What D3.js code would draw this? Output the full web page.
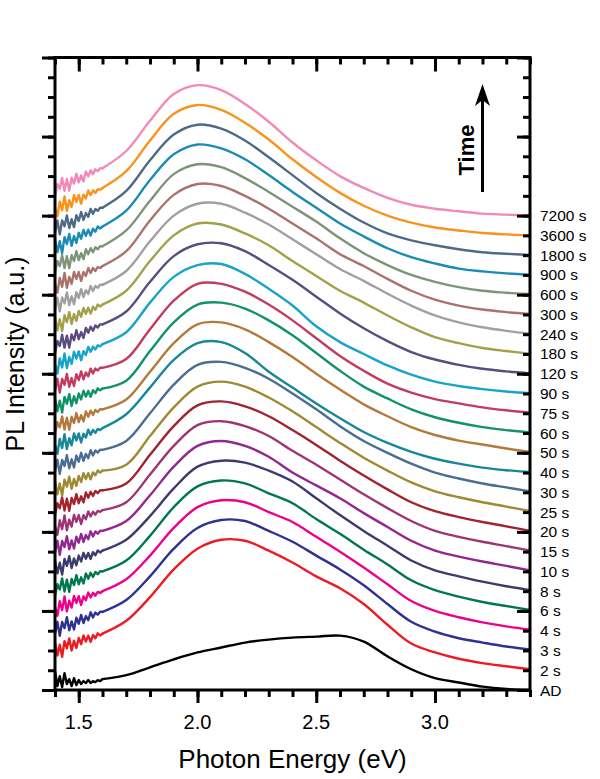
<!DOCTYPE html>
<html>
<head>
<meta charset="utf-8">
<script src="https://cdn.jsdelivr.net/npm/d3@7"></script>
<style>
  html, body { margin: 0; padding: 0; background: #fff; }
  svg { display: block; }
  text { font-family: Arial, "Liberation Sans", sans-serif; fill: #000; }
</style>
</head>
<body>
<svg id="chart" width="600" height="779"></svg>
<script>
// ---------------- DATA ----------------
// photon energy grid (eV): dense in the noisy low-energy part, 0.1 eV above 1.6 eV
const energy = [1.40,1.41,1.42,1.43,1.44,1.45,1.46,1.47,1.48,1.49,1.50,1.51,1.52,1.53,1.54,1.55,1.56,1.57,1.58,1.59,1.60,
  1.70,1.80,1.90,2.00,2.10,2.20,2.30,2.40,2.50,2.60,2.70,2.80,2.90,3.00,3.10,3.20,3.30,3.40];
const noisyCount = 21; // first 21 points (1.40–1.60 eV) are the noisy part of each spectrum

// PL intensity of each spectrum above its own baseline (a.u., one unit = one minor tick)
const pl_AD    = [0.95,0.2,0.7,0.15,0.85,0.3,0.55,0.2,0.6,0.25,0.5,0.3,0.45,0.35,0.5,0.35,0.45,0.4,0.5,0.45,0.55,
  0.75,1.15,1.55,1.9,2.15,2.4,2.55,2.65,2.7,2.75,2.45,1.7,1.05,0.6,0.38,0.17,0.05,0.0];
const pl_2s    = [1.40,0.74,1.29,0.68,1.47,1.11,1.61,1.00,1.49,1.13,1.63,1.32,1.76,1.45,1.75,1.44,1.78,1.62,1.87,1.76,1.85,
  2.5,3.7,5.1,6.15,6.6,6.55,6.05,5.45,4.75,4.15,3.35,2.3,1.35,0.9,0.58,0.36,0.2,0.05];
const pl_3s    = [0.85,1.45,0.74,1.44,1.13,1.68,1.02,1.47,1.06,1.66,1.35,1.80,1.39,1.74,1.53,1.93,1.67,1.92,1.81,1.96,1.95,
  2.55,3.75,5.15,6.2,6.6,6.55,6.05,5.5,4.8,4.1,3.3,2.35,1.45,0.95,0.62,0.4,0.2,0.05];
const pl_4s    = [1.20,0.75,1.49,1.04,1.73,0.98,1.52,1.17,1.76,1.41,1.75,1.30,1.74,1.54,1.93,1.68,1.92,1.77,1.96,1.91,2.00,
  2.6,3.8,5.2,6.25,6.6,6.5,6.0,5.5,4.75,4.0,3.2,2.35,1.5,1.0,0.68,0.42,0.22,0.05];
const pl_6s    = [0.75,1.35,1.09,1.64,0.98,1.58,0.97,1.62,1.31,1.81,1.35,1.70,1.39,1.89,1.63,1.93,1.72,1.97,1.86,2.01,2.00,
  2.55,3.8,5.25,6.3,6.6,6.45,5.95,5.45,4.65,3.9,3.1,2.35,1.55,1.05,0.72,0.45,0.25,0.05];
const pl_8s    = [1.55,0.90,1.44,0.84,1.63,1.28,1.77,1.17,1.66,1.31,1.80,1.50,1.94,1.64,1.93,1.63,1.97,1.82,2.06,1.96,2.05,
  2.6,3.8,5.2,6.3,6.6,6.5,6.1,5.55,4.7,3.85,3.05,2.3,1.55,1.05,0.75,0.48,0.25,0.05];
const pl_10s   = [0.95,1.55,0.84,1.54,1.23,1.78,1.12,1.57,1.16,1.76,1.45,1.90,1.49,1.84,1.63,2.03,1.77,2.02,1.91,2.06,2.05,
  2.55,3.85,5.3,6.35,6.6,6.35,5.8,5.0,4.35,3.7,2.95,2.25,1.55,1.05,0.75,0.5,0.28,0.05];
const pl_15s   = [1.30,0.85,1.59,1.14,1.83,1.08,1.62,1.27,1.86,1.51,1.85,1.40,1.84,1.64,2.03,1.78,2.02,1.87,2.06,2.01,2.10,
  2.5,3.9,5.35,6.4,6.6,6.35,5.85,5.1,4.4,3.65,2.9,2.2,1.55,1.05,0.75,0.5,0.28,0.05];
const pl_20s   = [0.85,1.45,1.19,1.74,1.08,1.68,1.07,1.72,1.41,1.91,1.45,1.80,1.49,1.99,1.73,2.03,1.82,2.07,1.96,2.11,2.10,
  2.45,3.9,5.35,6.4,6.6,6.35,5.85,5.15,4.4,3.6,2.85,2.15,1.5,1.05,0.75,0.5,0.28,0.05];
const pl_25s   = [1.55,0.90,1.45,0.84,1.64,1.29,1.79,1.18,1.68,1.33,1.83,1.52,1.97,1.67,1.97,1.66,2.01,1.86,2.11,2.00,2.10,
  2.4,3.85,5.3,6.35,6.6,6.35,5.8,5.1,4.3,3.5,2.75,2.1,1.5,1.05,0.75,0.5,0.28,0.05];
const pl_30s   = [1.05,1.65,0.94,1.64,1.33,1.88,1.22,1.67,1.26,1.86,1.55,2.00,1.59,1.94,1.73,2.13,1.87,2.12,2.01,2.16,2.15,
  2.6,4.0,5.45,6.45,6.6,6.3,5.75,5.0,4.2,3.35,2.6,2.0,1.45,1.0,0.7,0.45,0.25,0.05];
const pl_40s   = [1.40,0.95,1.70,1.24,1.94,1.19,1.74,1.38,1.98,1.63,1.98,1.52,1.97,1.77,2.17,1.91,2.16,2.01,2.21,2.15,2.25,
  2.95,4.3,5.7,6.55,6.6,6.05,5.1,4.3,3.5,2.75,2.05,1.5,1.05,0.7,0.45,0.25,0.12,0.03];
const pl_50s   = [0.95,1.55,1.29,1.84,1.18,1.78,1.17,1.82,1.51,2.01,1.55,1.90,1.59,2.09,1.83,2.13,1.92,2.17,2.06,2.21,2.20,
  2.7,4.1,5.55,6.5,6.6,6.25,5.6,4.85,4.0,3.2,2.45,1.85,1.3,0.9,0.62,0.42,0.22,0.04];
const pl_60s   = [1.75,1.10,1.64,1.04,1.83,1.48,1.97,1.37,1.86,1.51,2.00,1.70,2.14,1.84,2.13,1.83,2.17,2.02,2.26,2.16,2.25,
  2.65,4.15,5.6,6.5,6.6,6.3,5.7,4.95,4.05,3.15,2.35,1.75,1.2,0.8,0.52,0.3,0.15,0.03];
const pl_75s   = [1.15,1.75,1.05,1.74,1.44,1.99,1.34,1.78,1.38,1.98,1.68,2.12,1.72,2.07,1.87,2.26,2.01,2.26,2.16,2.30,2.30,
  2.75,4.25,5.7,6.55,6.55,6.15,5.5,4.7,3.8,2.9,2.15,1.5,1.05,0.72,0.5,0.3,0.15,0.03];
const pl_90s   = [1.45,1.01,1.77,1.32,2.03,1.29,1.85,1.50,2.11,1.77,2.13,1.68,2.14,1.95,2.36,2.11,2.37,2.23,2.44,2.39,2.50,
  3.1,4.6,5.9,6.5,6.55,6.05,5.3,4.45,3.4,2.6,2.0,1.42,0.95,0.6,0.38,0.22,0.1,0.02];
const pl_120s  = [1.05,1.66,1.41,1.97,1.32,1.93,1.33,1.99,1.69,2.20,1.75,2.11,1.81,2.32,2.07,2.38,2.18,2.44,2.34,2.50,2.50,
  3.15,4.65,5.95,6.55,6.6,6.2,5.5,4.75,3.9,3.05,2.3,1.65,1.1,0.72,0.45,0.25,0.12,0.02];
const pl_180s  = [1.85,1.20,1.76,1.16,1.96,1.61,2.12,1.52,2.02,1.67,2.18,1.88,2.33,2.03,2.34,2.04,2.39,2.24,2.50,2.40,2.50,
  3.2,4.7,6.0,6.6,6.55,6.1,5.5,4.7,3.95,3.2,2.6,1.95,1.35,0.85,0.55,0.3,0.15,0.02];
const pl_240s  = [1.25,1.85,1.16,1.86,1.56,2.11,1.47,1.92,1.52,2.12,1.83,2.28,1.88,2.23,2.04,2.44,2.19,2.44,2.35,2.50,2.50,
  3.2,4.7,6.0,6.6,6.6,6.15,5.55,4.8,4.05,3.3,2.7,2.05,1.45,0.95,0.6,0.35,0.17,0.03];
const pl_300s  = [1.55,1.10,1.85,1.40,2.10,1.35,1.90,1.55,2.15,1.80,2.15,1.70,2.15,1.95,2.35,2.10,2.35,2.20,2.40,2.35,2.45,
  3.2,4.75,6.05,6.6,6.5,6.0,5.35,4.6,3.85,3.05,2.45,1.8,1.2,0.75,0.45,0.25,0.12,0.02];
const pl_600s  = [1.10,1.70,1.45,2.00,1.35,1.95,1.35,2.00,1.70,2.20,1.75,2.10,1.80,2.30,2.05,2.35,2.15,2.40,2.30,2.45,2.45,
  3.25,4.75,6.1,6.6,6.45,5.9,5.2,4.45,3.7,2.85,2.1,1.5,1.0,0.65,0.38,0.2,0.1,0.02];
const pl_900s  = [1.80,1.15,1.71,1.11,1.91,1.56,2.07,1.47,1.97,1.62,2.13,1.83,2.28,1.98,2.29,1.99,2.34,2.19,2.45,2.35,2.45,
  3.25,4.8,6.1,6.6,6.4,5.85,5.05,4.2,3.4,2.6,1.95,1.35,0.9,0.58,0.32,0.18,0.08,0.01];
const pl_1800s = [1.15,1.75,1.06,1.76,1.46,2.01,1.37,1.82,1.42,2.02,1.73,2.18,1.78,2.13,1.94,2.34,2.09,2.34,2.25,2.40,2.40,
  3.25,4.8,6.1,6.6,6.4,5.8,4.95,4.05,3.15,2.35,1.65,1.1,0.75,0.5,0.3,0.15,0.07,0.01];
const pl_3600s = [1.40,0.96,1.71,1.27,1.97,1.23,1.78,1.44,2.04,1.70,2.05,1.61,2.06,1.87,2.27,2.03,2.28,2.14,2.34,2.30,2.40,
  3.25,4.8,6.15,6.6,6.35,5.7,4.85,3.85,2.95,2.15,1.5,1.0,0.65,0.4,0.25,0.12,0.05,0.0];
const pl_7200s = [1.00,1.60,1.36,1.91,1.26,1.86,1.27,1.92,1.62,2.12,1.68,2.03,1.73,2.23,1.99,2.29,2.09,2.34,2.25,2.40,2.40,
  3.27,4.8,6.15,6.6,6.35,5.65,4.75,3.7,2.8,2.0,1.4,0.9,0.55,0.35,0.22,0.1,0.05,0.0];

const seriesValues = [pl_AD, pl_2s, pl_3s, pl_4s, pl_6s, pl_8s, pl_10s, pl_15s, pl_20s, pl_25s,
  pl_30s, pl_40s, pl_50s, pl_60s, pl_75s, pl_90s, pl_120s, pl_180s, pl_240s, pl_300s,
  pl_600s, pl_900s, pl_1800s, pl_3600s, pl_7200s];

// labels (annealing time) and vertical stacking offsets (a.u.)
const seriesLabels = ["AD","2 s","3 s","4 s","6 s","8 s","10 s","15 s","20 s","25 s",
  "30 s","40 s","50 s","60 s","75 s","90 s","120 s","180 s","240 s","300 s",
  "600 s","900 s","1800 s","3600 s","7200 s"];
const offsets = [0,1,2,3,4,5,6,7,8,9,10,11,12,13,14,15,16,17,18,19,20,21,22,23,24];

const seriesColors = ["#000000","#ed1c24","#2e3192","#ec008c","#00784d","#3c3a6e","#92278f","#9e3472","#a0232e","#9e8a35",
  "#4b6d92","#17879a","#b27a3c","#11926a","#c23c5f","#16a4c9","#5a4c7f","#a3a04a","#a0a0a0","#a9736b",
  "#7d9478","#1a8cb4","#4e6a86","#f7941d","#f18ab9"];

// axis ticks
const xMinorTicks = d3.range(14, 35).map(d => d / 10);
const xMajorTicks = [1.5, 2.0, 2.5, 3.0];
const xTickLabels = ["1.5", "2.0", "2.5", "3.0"];
const yMinorTicks = d3.range(0, 33);
const yMajorTicks = d3.range(0, 33, 4);

// ---------------- CHART ----------------
(function () {
const svg = d3.select("#chart");
const pLeft = 55, pRight = 530, pTop = 57.5, pBottom = 690;

const x = d3.scaleLinear().domain([1.4, 3.4]).range([pLeft, pRight]);
const y = d3.scaleLinear().domain([0, 32]).range([pBottom, pTop]);

const noisyLine = d3.line().x(d => x(d[0])).y(d => y(d[1])).curve(d3.curveLinear);
const smoothLine = d3.line().x(d => x(d[0])).y(d => y(d[1])).curve(d3.curveCatmullRom.alpha(0.5));

const gLines = svg.append("g");
seriesValues.forEach((vals, i) => {
  const pts = energy.map((e, k) => [e, vals[k] + offsets[i]]);
  const g = gLines.append("g")
    .attr("fill", "none")
    .attr("stroke", seriesColors[i])
    .attr("stroke-width", 2.4)
    .attr("stroke-linejoin", "round")
    .attr("stroke-linecap", "round");
  g.append("path").attr("d", noisyLine(pts.slice(0, noisyCount)));
  g.append("path").attr("d", smoothLine(pts.slice(noisyCount - 1)));
});

function styleAxis(g) {
  g.select(".domain").remove();
  g.selectAll(".tick line").attr("stroke", "#000").attr("stroke-width", 3);
  g.selectAll(".tick text").remove();
}

// bottom (outward)
svg.append("g").attr("transform", `translate(0,${pBottom})`)
  .call(d3.axisBottom(x).tickValues(xMinorTicks).tickSize(7).tickFormat("")).call(styleAxis);
svg.append("g").attr("transform", `translate(0,${pBottom})`)
  .call(d3.axisBottom(x).tickValues(xMajorTicks).tickSize(13).tickFormat("")).call(styleAxis);
// top (inward)
svg.append("g").attr("transform", `translate(0,${pTop})`)
  .call(d3.axisTop(x).tickValues(xMinorTicks).tickSize(-7).tickFormat("")).call(styleAxis);
svg.append("g").attr("transform", `translate(0,${pTop})`)
  .call(d3.axisTop(x).tickValues(xMajorTicks).tickSize(-14).tickFormat("")).call(styleAxis);
// left (outward)
svg.append("g").attr("transform", `translate(${pLeft},0)`)
  .call(d3.axisLeft(y).tickValues(yMinorTicks).tickSize(7).tickFormat("")).call(styleAxis);
svg.append("g").attr("transform", `translate(${pLeft},0)`)
  .call(d3.axisLeft(y).tickValues(yMajorTicks).tickSize(13).tickFormat("")).call(styleAxis);
// right (inward)
svg.append("g").attr("transform", `translate(${pRight},0)`)
  .call(d3.axisRight(y).tickValues(yMinorTicks).tickSize(-7).tickFormat("")).call(styleAxis);
svg.append("g").attr("transform", `translate(${pRight},0)`)
  .call(d3.axisRight(y).tickValues(yMajorTicks).tickSize(-13).tickFormat("")).call(styleAxis);

// frame
svg.append("rect")
  .attr("x", pLeft).attr("y", pTop)
  .attr("width", pRight - pLeft).attr("height", pBottom - pTop)
  .attr("fill", "none").attr("stroke", "#000").attr("stroke-width", 3);

// x tick labels
svg.append("g").selectAll("text").data(xMajorTicks).join("text")
  .attr("x", d => x(d))
  .attr("y", pBottom + 39)
  .attr("text-anchor", "middle")
  .attr("font-size", 20)
  .text((d, i) => xTickLabels[i]);

// axis titles
svg.append("text")
  .attr("x", (pLeft + pRight) / 2).attr("y", 768)
  .attr("text-anchor", "middle").attr("font-size", 26)
  .text("Photon Energy (eV)");
svg.append("text")
  .attr("transform", "translate(24,354) rotate(-90)")
  .attr("text-anchor", "middle").attr("font-size", 25)
  .text("PL Intensity (a.u.)");

// series labels at right
svg.append("g").selectAll("text").data(seriesLabels).join("text")
  .attr("x", pRight + 10)
  .attr("y", (d, i) => y(offsets[i]) + 5.5)
  .attr("font-size", 15.5)
  .text(d => d);

// Time arrow annotation
svg.append("line")
  .attr("x1", 482.5).attr("x2", 482.5).attr("y1", 192).attr("y2", 98)
  .attr("stroke", "#000").attr("stroke-width", 3);
svg.append("path")
  .attr("d", "M482.5,84 L475,106 L482.5,100 L490,106 Z")
  .attr("fill", "#000");
svg.append("text")
  .attr("transform", "translate(474,150) rotate(-90)")
  .attr("text-anchor", "middle").attr("font-size", 22).attr("font-weight", "bold")
  .text("Time");
})();
</script>
</body>
</html>
